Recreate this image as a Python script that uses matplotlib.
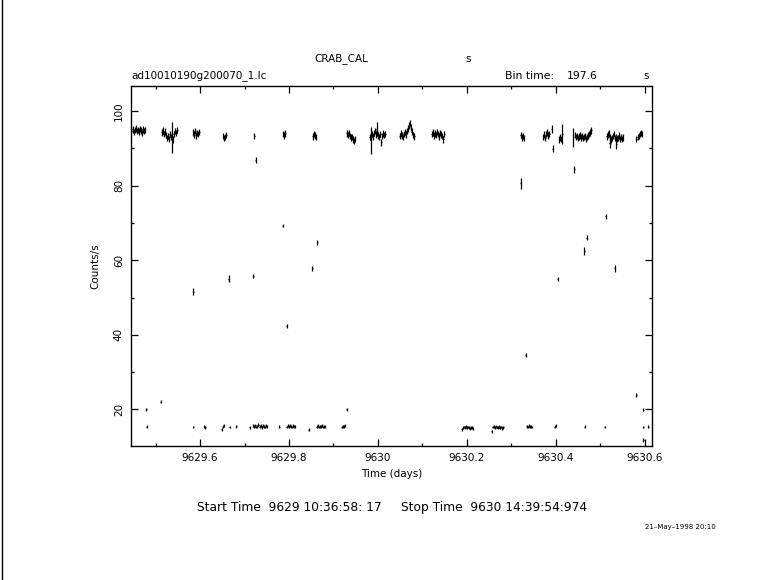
import numpy as np
import matplotlib
matplotlib.use("Agg")
import matplotlib.pyplot as plt
from matplotlib.ticker import MultipleLocator, FuncFormatter
from matplotlib.lines import Line2D

# bin size of the light curve (197.6 s in days)
bin_days = 197.6 / 86400.0

# high-rate clusters (~94 c/s): start time of each cluster and its bin values
up_start = [9629.446, 9629.514, 9629.585, 9629.652, 9629.722, 9629.787, 9629.853,
            9629.930, 9629.982, 9630.049, 9630.121, 9630.321, 9630.371, 9630.407,
            9630.443, 9630.514, 9630.581]
up_vals = [
    [94.6, 95.1, 94.4, 94.9, 95.3, 94.7, 95.0, 94.5, 95.2, 94.8, 94.2, 95.1, 94.6, 94.9],
    [94.3, 94.8, 93.9, 94.5, 93.6, 92.8, 93.4, 92.6, 93.8, 93.0, 93.2, 92.4, 93.9, 94.6, 94.2, 94.9],
    [94.3, 93.7, 94.6, 93.5, 94.1, 93.8, 94.4],
    [93.4, 92.7, 93.1, 93.6],
    [93.4],
    [93.9, 93.5, 94.0],
    [93.2, 93.8, 93.5, 93.0],
    [94.0, 93.6, 94.2, 93.4, 92.9, 93.1, 92.4, 92.0, 92.6],
    [93.0, 93.4, 93.9, 93.2, 94.1, 94.6, 93.7, 94.3, 93.5, 93.0, 93.8, 91.6, 93.4, 94.0, 93.6, 93.9],
    [93.3, 94.0, 93.5, 93.1, 93.8, 94.4, 93.7, 94.6, 95.3, 96.1, 96.8, 95.6, 94.5, 93.6, 93.2],
    [93.8, 94.3, 93.5, 94.0, 93.6, 94.4, 93.9, 93.2, 94.1, 93.7, 93.4, 92.4, 93.9],
    [93.6, 92.9, 93.3, 92.7],
    [93.1, 93.7, 92.8, 93.9, 94.3, 93.5, 93.9],
    [92.4, 92.9, 92.6],
    [93.6, 93.1, 93.4, 92.8, 93.2, 93.5, 92.9, 93.3, 92.7, 93.0, 93.4, 92.6, 93.1, 93.5, 93.8, 94.3, 94.8],
    [93.2, 93.7, 94.0, 93.1, 92.4, 92.8, 93.4, 93.8, 92.7, 93.0, 92.6, 92.8, 93.5, 92.6, 93.1, 92.5, 92.9],
    [92.6, 93.0, 93.4, 93.9, 94.2, 93.8],
]
up_err = 0.85

# low-rate clusters (~15 c/s)
low_start = [9629.480, 9629.585, 9629.609, 9629.649, 9629.667, 9629.682, 9629.712,
             9629.720, 9629.778, 9629.795, 9629.844, 9629.862, 9629.918, 9630.188,
             9630.256, 9630.334, 9630.397, 9630.465, 9630.510, 9630.596, 9630.607]
low_vals = [
    [15.4],
    [15.3],
    [15.5, 15.2],
    [14.7, 15.4, 15.6],
    [15.3],
    [15.5],
    [15.2],
    [15.6, 15.4, 15.8, 15.3, 15.5, 15.9, 15.4, 15.7, 15.2, 15.6, 15.5, 15.3, 15.8, 15.4],
    [15.4],
    [15.3, 15.6, 15.4, 15.7, 15.5, 15.3, 15.6, 15.4, 15.5],
    [14.6],
    [15.4, 15.6, 15.3, 15.5, 15.4, 15.6, 15.3, 15.5, 15.4],
    [15.3, 15.5, 15.4, 15.6],
    [14.7, 15.1, 15.3, 15.2, 15.4, 15.1, 15.3, 15.2, 15.0, 15.1, 15.2, 15.0],
    [14.2, 15.3, 15.5, 15.2, 15.4, 15.3, 15.1, 15.4, 15.2, 15.3, 15.0, 15.2],
    [15.5, 15.3, 15.6, 15.4, 15.5, 15.3],
    [15.4, 15.6],
    [15.4],
    [15.3],
    [15.3],
    [15.4],
]
low_err = 0.4

# single bins (partly exposed) with their own errors
iso_t = [9629.479, 9629.512, 9629.537, 9629.585, 9629.665, 9629.720, 9629.725,
         9629.786, 9629.795, 9629.852, 9629.863, 9629.930, 9629.984, 9629.997,
         9630.321, 9630.332, 9630.390, 9630.393, 9630.404, 9630.414, 9630.439,
         9630.441, 9630.464, 9630.469, 9630.512, 9630.521, 9630.532, 9630.536,
         9630.581, 9630.596, 9630.596]
iso_y = [20.1, 22.1, 93.0, 51.6, 55.1, 55.8, 86.9,
         69.3, 42.4, 57.8, 64.8, 20.1, 92.2, 95.2,
         80.6, 34.6, 95.1, 89.9, 55.0, 93.9, 93.0,
         84.4, 62.5, 66.1, 71.8, 91.5, 57.8, 91.3,
         23.9, 19.9, 11.8]
iso_e = [0.4, 0.4, 4.2, 0.9, 1.0, 0.6, 0.9,
         0.5, 0.6, 0.6, 0.6, 0.4, 3.6, 2.0,
         1.5, 0.6, 1.1, 1.0, 0.6, 2.6, 2.5,
         0.9, 1.0, 0.6, 0.6, 1.5, 1.0, 1.5,
         0.5, 0.4, 0.6]

fig = plt.figure(figsize=(7.81, 5.8), dpi=100)
ax = fig.add_axes([0.1674, 0.2310, 0.6670, 0.6212])

bar_kw = dict(fmt='none', ecolor='black', elinewidth=0.9, capsize=0)

for t0, vals in zip(up_start, up_vals):
    t = t0 + bin_days * np.arange(len(vals))
    ax.errorbar(t, vals, yerr=up_err, xerr=bin_days / 2, **bar_kw)

for t0, vals in zip(low_start, low_vals):
    t = t0 + bin_days * np.arange(len(vals))
    ax.errorbar(t, vals, yerr=low_err, xerr=bin_days / 2, **bar_kw)

ax.errorbar(iso_t, iso_y, yerr=iso_e, xerr=bin_days / 2, **bar_kw)

ax.set_xlim(9629.4443, 9630.6151)
ax.set_ylim(10.2, 106.8)

ax.xaxis.set_major_locator(MultipleLocator(0.2))
ax.xaxis.set_minor_locator(MultipleLocator(0.1))
ax.yaxis.set_major_locator(MultipleLocator(20))
ax.yaxis.set_minor_locator(MultipleLocator(10))
fmt = FuncFormatter(lambda v, p: '%g' % round(v, 4))
ax.xaxis.set_major_formatter(fmt)
ax.yaxis.set_major_formatter(fmt)

ax.tick_params(which='both', direction='in', top=True, right=True, width=0.9,
               labelsize=7.5, pad=5)
ax.tick_params(which='major', length=5)
ax.tick_params(which='minor', length=2.5)
for lab in ax.get_yticklabels():
    lab.set_rotation(90)
    lab.set_va('center')
for sp in ax.spines.values():
    sp.set_linewidth(1.0)

ax.set_xlabel('Time (days)', fontsize=7.5, labelpad=4)
ax.set_ylabel('Counts/s', fontsize=7.5, labelpad=10)

W, H = 781.0, 580.0
fig.text(341 / W, 1 - 59 / H, 'CRAB_CAL', fontsize=7.5, ha='center', va='center')
fig.text(468 / W, 1 - 59 / H, 's', fontsize=7.5, ha='center', va='center')
fig.text(131 / W, 1 - 76 / H, 'ad10010190g200070_1.lc', fontsize=7.5, ha='left', va='center')
fig.text(505 / W, 1 - 76 / H, 'Bin time:', fontsize=7.8, ha='left', va='center')
fig.text(567 / W, 1 - 76 / H, '197.6', fontsize=7.8, ha='left', va='center')
fig.text(646 / W, 1 - 76 / H, 's', fontsize=7.5, ha='center', va='center')
fig.text(392 / W, 1 - 508 / H,
         'Start Time  9629 10:36:58: 17     Stop Time  9630 14:39:54:974',
         fontsize=8.8, ha='center', va='center')
fig.text(680 / W, 1 - 527 / H, '21\u2013May\u20131998 20:10', fontsize=5,
         ha='center', va='center')

fig.add_artist(Line2D([1.5 / W, 1.5 / W], [0, 1], transform=fig.transFigure,
                      color='black', lw=1.0))

fig.savefig('out.png', dpi=100, facecolor='white')
